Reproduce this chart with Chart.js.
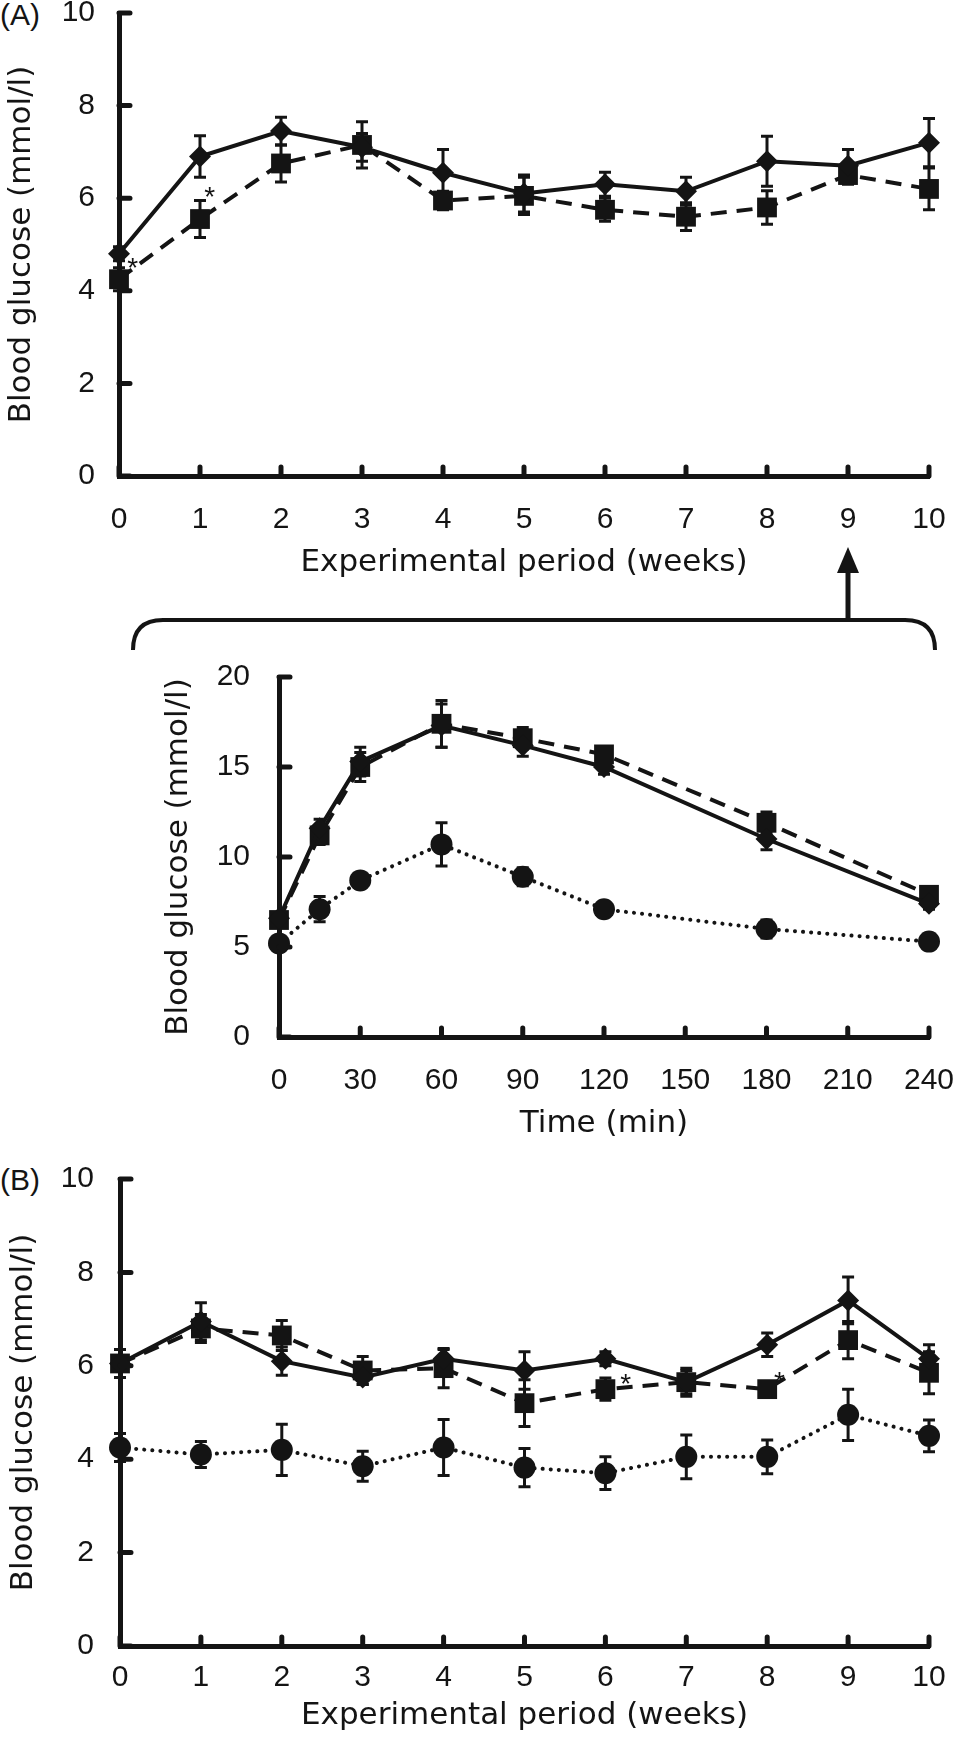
<!DOCTYPE html>
<html>
<head>
<meta charset="utf-8">
<script src="https://cdn.jsdelivr.net/npm/chart.js@4.4.1/dist/chart.umd.min.js"></script>
<style>
  html, body { margin: 0; padding: 0; background: #fff; }
  body { position: relative; width: 957px; height: 1741px; overflow: hidden; }
  canvas { position: absolute; }
  .panel { position: absolute; font: 30px "Liberation Sans", Arial, sans-serif; color: #141414; line-height: 30px; }
  svg { position: absolute; left: 0; top: 0; }
</style>
</head>
<body>
<div class="panel" style="left:0;top:0">(A)</div>
<div class="panel" style="left:0;top:1165px">(B)</div>

<svg width="957" height="700">
  <path d="M133 650 Q133 620 163 620 L905 620 Q935 620 935 650" fill="none" stroke="#141414" stroke-width="4"/>
  <line x1="848" y1="620" x2="848" y2="568" stroke="#141414" stroke-width="5"/>
  <polygon points="848,547 837,573 859,573" fill="#141414"/>
</svg>

<canvas id="chartA" width="957" height="623" style="left:0;top:-27px"></canvas>
<canvas id="chartT" width="817" height="528" style="left:140px;top:632px"></canvas>
<canvas id="chartB" width="957" height="601" style="left:0;top:1140px"></canvas>

<script>
const INK = '#141414';

// weekly fasting glucose
const weeks = [0, 1, 2, 3, 4, 5, 6, 7, 8, 9, 10];
const weekTicks = [0, 1, 2, 3, 4, 5, 6, 7, 8, 9, 10];
const glucoseTicksWeekly = [0, 2, 4, 6, 8, 10];

const diamondA = [4.8, 6.9, 7.45, 7.1, 6.55, 6.1, 6.3, 6.15, 6.8, 6.7, 7.2];
const diamondAErr = [0.15, 0.45, 0.3, 0.3, 0.5, 0.4, 0.26, 0.3, 0.54, 0.35, 0.52];
const squareA = [4.25, 5.55, 6.75, 7.15, 5.95, 6.05, 5.75, 5.6, 5.8, 6.5, 6.2];
const squareAErr = [0.25, 0.4, 0.4, 0.5, 0.2, 0.4, 0.25, 0.3, 0.36, 0.2, 0.45];
const starsA = [[0.17, 4.6], [1.12, 6.12]];

// glucose tolerance test, week 9
const timeMin = [0, 15, 30, 60, 90, 120, 180, 240];
const timeTicks = [0, 30, 60, 90, 120, 150, 180, 210, 240];
const glucoseTicksOgtt = [0, 5, 10, 15, 20];

const diamondT = [6.6, 11.6, 15.3, 17.3, 16.2, 15.0, 11.0, 7.4];
const diamondTErr = [0.3, 0.5, 0.8, 1.2, 0.6, 0.4, 0.6, 0.3];
const squareT = [6.5, 11.2, 15.0, 17.4, 16.6, 15.7, 11.9, 7.9];
const squareTErr = [0.3, 0.5, 0.8, 1.3, 0.6, 0.4, 0.6, 0.3];
const circleT = [5.2, 7.1, 8.7, 10.7, 8.9, 7.1, 6.0, 5.3];
const circleTErr = [0.2, 0.7, 0.3, 1.2, 0.5, 0.4, 0.5, 0.2];

// panel B
const diamondB = [6.05, 6.95, 6.1, 5.75, 6.15, 5.9, 6.15, 5.65, 6.45, 7.4, 6.15];
const diamondBErr = [0.3, 0.4, 0.3, 0.15, 0.2, 0.4, 0.15, 0.25, 0.25, 0.5, 0.3];
const squareB = [6.05, 6.8, 6.65, 5.9, 5.95, 5.2, 5.5, 5.65, 5.5, 6.55, 5.85];
const squareBErr = [0.3, 0.3, 0.32, 0.3, 0.42, 0.5, 0.24, 0.3, 0.15, 0.4, 0.45];
const circleB = [4.25, 4.1, 4.2, 3.85, 4.25, 3.82, 3.7, 4.05, 4.05, 4.95, 4.5];
const circleBErr = [0.3, 0.28, 0.55, 0.32, 0.6, 0.41, 0.35, 0.47, 0.36, 0.55, 0.34];
const starsB = [[6.25, 5.72], [8.15, 5.75]];

const toPoints = (xs, ys) => xs.map((x, i) => ({ x: x, y: ys[i] }));

function series(xs, ys, err, kind) {
  const base = {
    data: toPoints(xs, ys),
    err: err,
    borderColor: INK,
    backgroundColor: INK,
    pointBackgroundColor: INK,
    pointBorderWidth: 0,
    pointHoverRadius: 0,
    borderWidth: 4,
    tension: 0,
    clip: false
  };
  if (kind === 'diamond') {
    return Object.assign(base, { pointStyle: 'rectRot', pointRadius: 11 });
  }
  if (kind === 'square') {
    return Object.assign(base, { pointStyle: 'rect', pointRadius: 14, borderDash: [16, 10] });
  }
  return Object.assign(base, { pointStyle: 'circle', pointRadius: 11, borderWidth: 4, borderDash: [0.1, 8], borderCapStyle: 'round' });
}

// error bars, inward tick marks, significance asterisks
const extras = {
  id: 'extras',
  beforeDatasetsDraw(chart) {
    const { ctx, scales: { x, y } } = chart;
    ctx.save();
    ctx.strokeStyle = INK;
    ctx.lineWidth = 3;
    chart.data.datasets.forEach(ds => {
      if (!ds.err) return;
      ds.data.forEach((p, i) => {
        const px = x.getPixelForValue(p.x);
        const hi = y.getPixelForValue(p.y + ds.err[i]);
        const lo = y.getPixelForValue(p.y - ds.err[i]);
        ctx.beginPath();
        ctx.moveTo(px, hi); ctx.lineTo(px, lo);
        ctx.moveTo(px - 6, hi); ctx.lineTo(px + 6, hi);
        ctx.moveTo(px - 6, lo); ctx.lineTo(px + 6, lo);
        ctx.stroke();
      });
    });
    ctx.restore();
  },
  afterDraw(chart, args, opts) {
    const { ctx, chartArea, scales: { x, y } } = chart;
    ctx.save();
    ctx.strokeStyle = INK;
    ctx.lineWidth = 5;
    ctx.lineCap = 'round';
    ctx.beginPath();
    y.ticks.forEach(t => {
      const py = y.getPixelForValue(t.value);
      ctx.moveTo(chartArea.left, py); ctx.lineTo(chartArea.left + 11, py);
    });
    x.ticks.forEach(t => {
      const px = x.getPixelForValue(t.value);
      ctx.moveTo(px, chartArea.bottom); ctx.lineTo(px, chartArea.bottom - 9);
    });
    ctx.stroke();
    ctx.fillStyle = INK;
    ctx.font = '28px "Liberation Sans", Arial, sans-serif';
    ctx.textAlign = 'center';
    ctx.textBaseline = 'middle';
    (opts.stars || []).forEach(s => {
      ctx.fillText('*', x.getPixelForValue(s[0]), y.getPixelForValue(s[1]) + 6);
    });
    ctx.restore();
  }
};

function makeOptions(o) {
  const sans = '"Liberation Sans", Arial, sans-serif';
  const titleFont = { family: '"DejaVu Sans", sans-serif', size: 31, lineHeight: 1.2 };
  return {
    responsive: false,
    animation: false,
    events: [],
    layout: { padding: o.padding },
    plugins: {
      legend: { display: false },
      tooltip: { enabled: false },
      extras: { stars: o.stars }
    },
    scales: {
      x: {
        type: 'linear',
        min: o.xTicks[0],
        max: o.xTicks[o.xTicks.length - 1],
        afterBuildTicks: s => { s.ticks = o.xTicks.map(v => ({ value: v })); },
        afterFit: s => { s.height = o.xHeight; },
        grid: { display: false },
        border: { display: true, color: INK, width: 5 },
        // label centre sits lineHeight/2 below the axis
        ticks: { color: INK, font: { family: sans, size: 30, lineHeight: o.xLabelDrop * 2 / 30 }, padding: 0, maxRotation: 0, autoSkip: false },
        title: { display: true, text: o.xTitle, color: INK, font: titleFont, padding: { top: 0, bottom: o.xTitlePad } }
      },
      y: {
        type: 'linear',
        min: o.yTicks[0],
        max: o.yTicks[o.yTicks.length - 1],
        afterBuildTicks: s => { s.ticks = o.yTicks.map(v => ({ value: v })); },
        afterFit: s => { s.width = o.yWidth; },
        grid: { display: false },
        border: { display: true, color: INK, width: 5 },
        ticks: { color: INK, font: { family: sans, size: 30, lineHeight: 1 }, padding: o.yTickPad },
        title: { display: true, text: 'Blood glucose (mmol/l)', color: INK, font: titleFont, padding: { top: o.yTitlePad, bottom: 0 } }
      }
    }
  };
}

new Chart(document.getElementById('chartA'), {
  type: 'line',
  data: {
    datasets: [
      series(weeks, diamondA, diamondAErr, 'diamond'),
      series(weeks, squareA, squareAErr, 'square')
    ]
  },
  options: makeOptions({
    padding: { top: 40, right: 28, left: 0, bottom: 0 },
    xTicks: weekTicks, yTicks: glucoseTicksWeekly,
    xHeight: 120, yWidth: 119,
    xLabelDrop: 36, yTickPad: 16, xTitlePad: 14, yTitlePad: 3,
    xTitle: 'Experimental period (weeks)',
    stars: starsA
  }),
  plugins: [extras]
});

new Chart(document.getElementById('chartT'), {
  type: 'line',
  data: {
    datasets: [
      series(timeMin, circleT, circleTErr, 'circle'),
      series(timeMin, diamondT, diamondTErr, 'diamond'),
      series(timeMin, squareT, squareTErr, 'square')
    ]
  },
  options: makeOptions({
    padding: { top: 45, right: 28, left: 0, bottom: 0 },
    xTicks: timeTicks, yTicks: glucoseTicksOgtt,
    xHeight: 123, yWidth: 139,
    xLabelDrop: 36, yTickPad: 21, xTitlePad: 17, yTitlePad: 20,
    xTitle: 'Time (min)',
    stars: []
  }),
  plugins: [extras]
});

new Chart(document.getElementById('chartB'), {
  type: 'line',
  data: {
    datasets: [
      series(weeks, circleB, circleBErr, 'circle'),
      series(weeks, diamondB, diamondBErr, 'diamond'),
      series(weeks, squareB, squareBErr, 'square')
    ]
  },
  options: makeOptions({
    padding: { top: 39, right: 28, left: 0, bottom: 0 },
    xTicks: weekTicks, yTicks: glucoseTicksWeekly,
    xHeight: 95, yWidth: 120,
    xLabelDrop: 24, yTickPad: 18, xTitlePad: 6, yTitlePad: 5,
    xTitle: 'Experimental period (weeks)',
    stars: starsB
  }),
  plugins: [extras]
});
</script>
</body>
</html>
